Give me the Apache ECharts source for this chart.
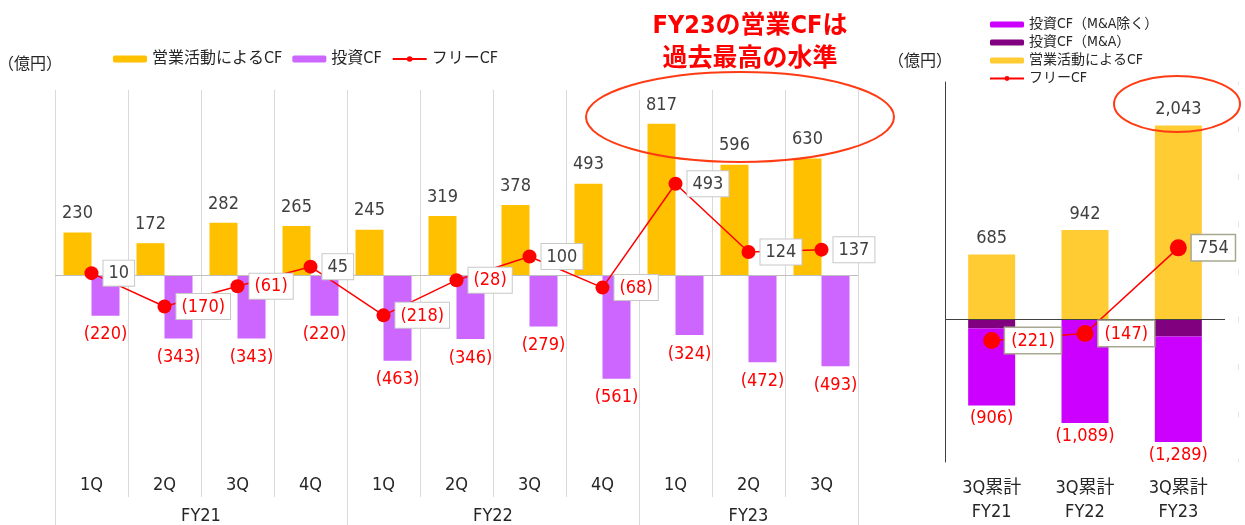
<!DOCTYPE html>
<html>
<head>
<meta charset="utf-8">
<script src="https://cdn.jsdelivr.net/npm/echarts@6/dist/echarts.min.js"></script>
<style>
  html, body { margin: 0; padding: 0; background: #fff; }
  #chart { width: 1245px; height: 525px; }
</style>
</head>
<body>
<div id="chart"></div>
<script>
// quarterly data (left panel)
const quarters = ['1Q', '2Q', '3Q', '4Q', '1Q', '2Q', '3Q', '4Q', '1Q', '2Q', '3Q']
const fiscalYears = ['FY21', 'FY22', 'FY23']
const quartersPerYear = [4, 4, 3]
const operatingCF = [230, 172, 282, 265, 245, 319, 378, 493, 817, 596, 630]
const investingCF = [-220, -343, -343, -220, -463, -346, -279, -561, -324, -472, -493]
const freeCF = [10, -170, -61, 45, -218, -28, 100, -68, 493, 124, 137]

// 3Q cumulative (right panel)
const cumLabel = '3Q累計'
const cumOperating = [685, 942, 2043]
const cumInvestMA = [-95, 0, -180]
const cumInvestExMA = [-811, -1089, -1109]
const cumFree = [-221, -147, 754]

const FONT = "'Liberation Sans Narrow','DejaVu Sans Condensed','Noto Sans CJK JP',sans-serif"
const RED = '#ff0000'
const DARK = '#404040'
const TEXT = '#262626'

function fmt(v) {
    const s = Math.abs(v).toLocaleString('en-US')
    return v < 0 ? '(' + s + ')' : s
}

// FY group axis: half-quarter steps so the group labels can sit in the middle
const groupTicks = new Set()
const groupLabels = {}
let start = 0
quartersPerYear.forEach((n, i) => {
    groupTicks.add(start * 2)
    groupLabels[start * 2 + n] = fiscalYears[i]
    start += n
})
groupTicks.add(start * 2)
const groupSteps = []
for (let j = 0; j <= start * 2; j++) groupSteps.push('s' + j)

const cumTotals = cumInvestMA.map((v, i) => v + cumInvestExMA[i])
const cumCats = fiscalYears.map(y => cumLabel + '\n' + y)

const txt = (size, color) => ({ fontSize: size, color: color, fontFamily: FONT })

const freeLabel = (border, bw, pad, size) => ({
    show: true,
    position: 'right',
    distance: 5,
    backgroundColor: '#fff',
    borderColor: border,
    borderWidth: bw,
    padding: pad,
    formatter: p => p.value < 0 ? '{n|' + fmt(p.value) + '}' : '{p|' + fmt(p.value) + '}',
    rich: {
        n: txt(size, RED),
        p: txt(size, DARK)
    }
})

var chart = echarts.init(document.getElementById('chart'))
var option = {
    animation: false,
    textStyle: { fontFamily: FONT },
    legend: [
        {
            left: 113, top: 51, padding: 0,
            itemWidth: 34, itemHeight: 7, itemGap: 10,
            textStyle: txt(16, TEXT),
            data: ['営業活動によるCF', '投資CF', 'フリーCF']
        },
        {
            orient: 'vertical',
            left: 989, top: 17, padding: 0,
            itemWidth: 34, itemHeight: 6, itemGap: 3,
            textStyle: Object.assign(txt(14, TEXT), { lineHeight: 15 }),
            data: [
                { name: '投資CF（M&A除く）' },
                { name: '投資CF（M&A）' },
                { name: '営業活動によるCF', itemStyle: { color: '#ffcc33' } },
                { name: 'フリーCF' }
            ]
        }
    ],
    grid: [
        { left: 55, right: 387, top: 90, bottom: 28, outerBoundsMode: 'none' },
        { left: 945, right: 20, top: 82, bottom: 63, outerBoundsMode: 'none' }
    ],
    xAxis: [
        {
            type: 'category', gridIndex: 0, data: quarters,
            axisLine: { show: false, onZero: false }, axisTick: { show: false },
            splitLine: { show: true, interval: 0, lineStyle: { color: '#d9d9d9' } },
            axisLabel: Object.assign(txt(18, TEXT), { inside: true, margin: 3, interval: 0 })
        },
        {
            type: 'category', gridIndex: 0, position: 'bottom', boundaryGap: false, data: groupSteps,
            axisLine: { show: false, onZero: false },
            axisTick: { show: true, length: 28, interval: (i) => groupTicks.has(i), lineStyle: { color: '#d9d9d9' } },
            axisLabel: Object.assign(txt(18, TEXT), { margin: 10, interval: 0, formatter: (v, i) => groupLabels[i] || '' })
        },
        {
            type: 'category', gridIndex: 1, data: cumCats,
            axisLine: { show: false, onZero: false }, axisTick: { show: false },
            axisLabel: Object.assign(txt(18, TEXT), { margin: 14, lineHeight: 24 })
        }
    ],
    yAxis: [
        {
            type: 'value', gridIndex: 0, min: -1200, max: 1000, interval: 200,
            axisLine: { show: false }, axisTick: { show: false }, axisLabel: { show: false },
            splitLine: { show: false },
            name: '（億円）', nameLocation: 'end', nameGap: 17,
            nameTextStyle: Object.assign(txt(16, TEXT), { align: 'right', padding: [0, -7, 0, 0] })
        },
        {
            type: 'value', gridIndex: 1, min: -1500, max: 2500, interval: 500,
            axisLine: { show: true, lineStyle: { color: DARK, width: 1 } },
            axisTick: { show: false }, axisLabel: { show: false }, splitLine: { show: false },
            name: '（億円）', nameLocation: 'end', nameGap: 12,
            nameTextStyle: Object.assign(txt(16, TEXT), { align: 'right', padding: [0, -7, 0, 0] })
        },
        {
            type: 'value', gridIndex: 1, min: -1500, max: 2500, interval: 500, offset: 13,
            axisLine: { show: true, lineStyle: { color: '#e3e3e3', type: [5, 42.5], dashOffset: 2.5 } },
            axisTick: { show: false }, axisLabel: { show: false }, splitLine: { show: false }
        }
    ],
    series: [
        {
            name: '営業活動によるCF', type: 'bar', xAxisIndex: 0, yAxisIndex: 0,
            data: operatingCF, barWidth: 28, barGap: '0%',
            itemStyle: { color: '#ffc000' },
            label: Object.assign(txt(18, DARK), { show: true, position: 'top', distance: 10, formatter: p => fmt(p.value) }),
            markLine: {
                silent: true, symbol: 'none', label: { show: false },
                lineStyle: { color: '#bfbfbf', type: 'solid', width: 1 },
                data: [{ yAxis: 0 }]
            }
        },
        {
            name: '投資CF', type: 'bar', xAxisIndex: 0, yAxisIndex: 0,
            data: investingCF, barWidth: 28, barGap: '0%',
            itemStyle: { color: '#cc66ff' },
            label: Object.assign(txt(18, RED), { show: true, position: 'bottom', distance: 10, formatter: p => fmt(p.value) })
        },
        {
            name: 'フリーCF', type: 'line', xAxisIndex: 0, yAxisIndex: 0,
            data: freeCF, symbol: 'circle', symbolSize: 14,
            itemStyle: { color: RED }, lineStyle: { color: RED, width: 1.5 },
            label: freeLabel('#c8c8c8', 1, [4, 5, 3, 5], 18), z: 5
        },
        {
            name: '投資CF（M&A）', type: 'bar', xAxisIndex: 2, yAxisIndex: 1,
            data: cumInvestMA, stack: 'cum', barWidth: 47,
            itemStyle: { color: '#800080' },
            markLine: {
                silent: true, symbol: 'none', label: { show: false },
                lineStyle: { color: DARK, type: 'solid', width: 1 },
                data: [{ yAxis: 0 }]
            }
        },
        {
            name: '投資CF（M&A除く）', type: 'bar', xAxisIndex: 2, yAxisIndex: 1,
            data: cumInvestExMA, stack: 'cum', barWidth: 47,
            itemStyle: { color: '#cc00ff' },
            label: Object.assign(txt(18, RED), { show: true, position: 'bottom', distance: 4, formatter: p => fmt(cumTotals[p.dataIndex]) })
        },
        {
            name: '営業活動によるCF', type: 'bar', xAxisIndex: 2, yAxisIndex: 1,
            data: cumOperating, stack: 'cum', barWidth: 47,
            itemStyle: { color: '#ffcc33' },
            label: Object.assign(txt(18, DARK), { show: true, position: 'top', distance: 7, formatter: p => fmt(p.value) })
        },
        {
            name: 'フリーCF', type: 'line', xAxisIndex: 2, yAxisIndex: 1,
            data: cumFree, symbol: 'circle', symbolSize: 17,
            itemStyle: { color: RED }, lineStyle: { color: RED, width: 1.5 },
            label: freeLabel('#a8a890', 1.5, [4, 6, 3, 6], 18), z: 5
        }
    ],
    graphic: [
        {
            type: 'text', x: 750, y: 10,
            style: {
                text: 'FY23の営業CFは\n過去最高の水準',
                fill: RED, font: 'bold 25px ' + FONT, lineHeight: 33,
                textAlign: 'center'
            }
        },
        {
            type: 'ellipse', shape: { cx: 740, cy: 117, rx: 154, ry: 45 },
            style: { fill: 'none', stroke: '#ff3b14', lineWidth: 2 }, z: 10
        },
        {
            type: 'ellipse', shape: { cx: 1177, cy: 104, rx: 63, ry: 28 },
            style: { fill: 'none', stroke: '#ff3b14', lineWidth: 2 }, z: 10
        }
    ]
}
chart.setOption(option)
</script>
</body>
</html>
